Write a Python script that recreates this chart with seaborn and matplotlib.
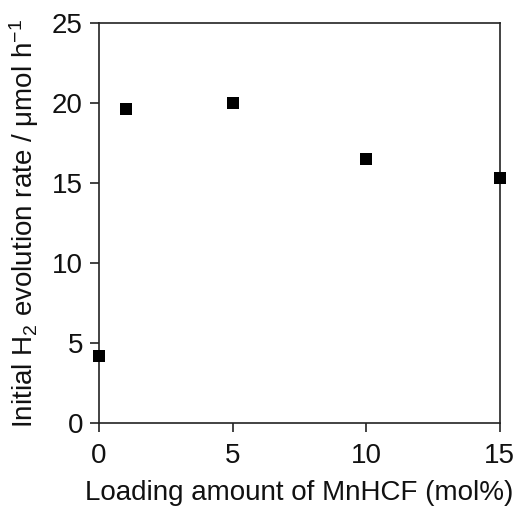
import matplotlib
matplotlib.use("Agg")
import matplotlib.pyplot as plt
import seaborn as sns
import pandas as pd

# MnHCF loading (mol%) and initial H2 evolution rate (µmol h^-1)
loading = [0, 1, 5, 10, 15]
rate = [4.2, 19.6, 20.0, 16.5, 15.3]
x_ticks = [0, 5, 10, 15]
y_ticks = [0, 5, 10, 15, 20, 25]

df = pd.DataFrame({"loading": loading, "rate": rate})

sns.set_theme(style="ticks")
plt.rcParams["font.family"] = ["Liberation Sans", "DejaVu Sans"]
plt.rcParams["mathtext.fontset"] = "custom"
plt.rcParams["mathtext.rm"] = "Liberation Sans"
plt.rcParams["mathtext.it"] = "Liberation Sans"

fig = plt.figure(figsize=(5.18, 5.08), dpi=100)
ax = fig.add_axes([0.191, 0.167, 0.774, 0.788])

sns.scatterplot(data=df, x="loading", y="rate", marker="s", s=80,
                color="black", edgecolor="black", linewidth=0, ax=ax,
                clip_on=False, zorder=5)

ax.set_xlim(0, 15)
ax.set_ylim(0, 25)
ax.set_xticks(x_ticks)
ax.set_yticks(y_ticks)
for side in ["left", "bottom", "top", "right"]:
    ax.spines[side].set_visible(True)
    ax.spines[side].set_linewidth(1.2)
    ax.spines[side].set_color("#222222")
ax.tick_params(axis="both", direction="out", length=6.5, width=1.2,
               labelsize=20, colors="#222222")
ax.tick_params(axis="x", pad=8)
ax.tick_params(axis="y", pad=5)
ax.tick_params(labelcolor="#111111")

ax.set_xlabel("Loading amount of MnHCF (mol%)", fontsize=20,
              color="#111111", labelpad=8)
ax.set_ylabel("Initial H$_2$ evolution rate / μmol h$^{\u22121}$",
              fontsize=20, color="#111111", labelpad=8)

fig.savefig("out.png", dpi=100, facecolor="white")
